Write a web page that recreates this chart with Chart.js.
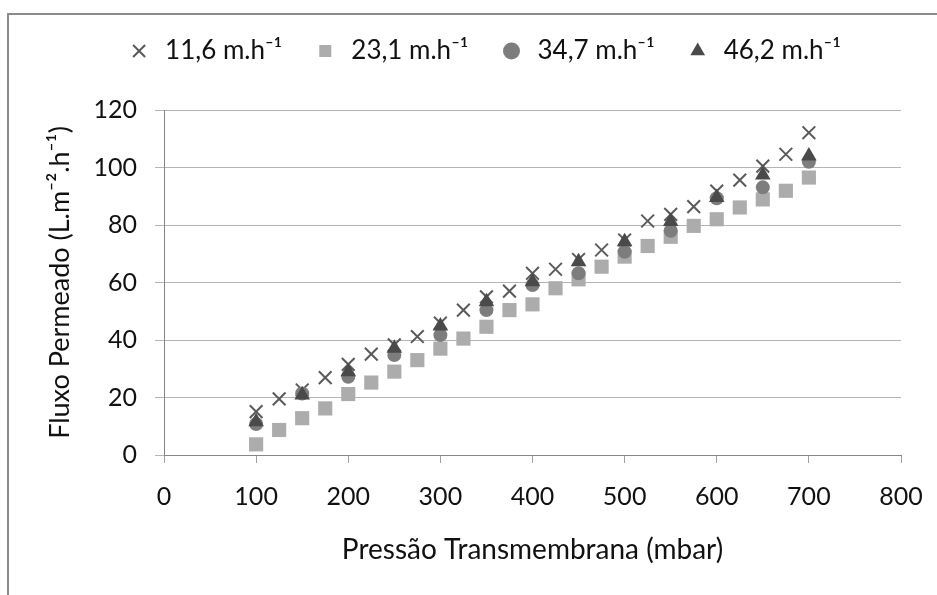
<!DOCTYPE html>
<html>
<head>
<meta charset="utf-8">
<script src="https://cdn.jsdelivr.net/npm/chart.js@4.4.1/dist/chart.umd.min.js"></script>
<style>
  html, body { margin: 0; padding: 0; background: #fff; }
  #wrap { position: relative; width: 937px; height: 595px; }
  #frame { position: absolute; left: 7px; top: 13px; right: 0; bottom: 0;
           border-top: 2px solid #8c8c8c; border-left: 2px solid #8c8c8c; pointer-events: none; }
</style>
</head>
<body>
<div id="wrap">
  <canvas id="chart" width="937" height="595"></canvas>
  <div id="frame"></div>
</div>
<script>
// pressure (mbar)
const pressaoFina = [100, 125, 150, 175, 200, 225, 250, 275, 300, 325, 350, 375, 400,
  425, 450, 475, 500, 525, 550, 575, 600, 625, 650, 675, 700];
const pressaoGrossa = [100, 150, 200, 250, 300, 350, 400, 450, 500, 550, 600, 650, 700];

// permeate flux (L.m-2.h-1)
const fluxo116 = [15.1, 19.5, 22.6, 26.9, 31.5, 35.1, 38.3, 41.2, 45.9, 50.4, 55.0, 57.0, 63.2,
  64.6, 68.0, 71.3, 74.8, 81.4, 83.7, 86.4, 91.8, 95.6, 100.5, 104.6, 112.1];
const fluxo231 = [3.7, 8.7, 12.8, 16.2, 21.2, 25.2, 29.0, 33.0, 37.0, 40.5, 44.6, 50.4, 52.4,
  58.0, 61.1, 65.5, 69.0, 72.7, 75.9, 79.7, 82.0, 86.1, 88.9, 91.9, 96.5];
const fluxo347 = [10.8, 21.4, 27.2, 34.8, 41.7, 50.4, 59.1, 63.2, 70.7, 78.0, 89.3, 93.1, 102.0];
const fluxo462 = [11.6, 20.9, 29.0, 37.1, 44.9, 53.3, 60.3, 67.2, 74.2, 81.2, 89.6, 97.4, 104.0];

const legendas = ['11,6 m.h\u207B\u00B9', '23,1 m.h\u207B\u00B9', '34,7 m.h\u207B\u00B9', '46,2 m.h\u207B\u00B9'];
const yTicks = [0, 20, 40, 60, 80, 100, 120];
const xTicks = [0, 100, 200, 300, 400, 500, 600, 700, 800];

const pares = (xs, ys) => xs.map((x, i) => ({ x: x, y: ys[i] }));

const FONT = 'Lato, "Noto Sans", sans-serif';

// legend keeps its own row but reserves the space down to the plot top
const legendaAjuste = {
  id: 'legendaAjuste',
  beforeLayout(chart) {
    const lg = chart.legend;
    if (lg && !lg._ajustada) {
      const fitOrig = lg.fit.bind(lg);
      lg.fit = function () { fitOrig(); this.height = 102; };
      lg._ajustada = true;
    }
  },
  afterLayout(chart) {
    const lg = chart.legend;
    if (lg) { lg.left += 28; lg.right += 28; }
  }
};

new Chart(document.getElementById('chart'), {
  type: 'scatter',
  data: {
    datasets: [
      { label: legendas[0], data: pares(pressaoFina, fluxo116), order: 4,
        pointStyle: 'crossRot', pointRadius: 9, borderWidth: 2,
        borderColor: '#5a5a5a', backgroundColor: '#5a5a5a' },
      { label: legendas[1], data: pares(pressaoFina, fluxo231), order: 3,
        pointStyle: 'rect', pointRadius: 10, borderWidth: 0,
        borderColor: '#acacac', backgroundColor: '#acacac' },
      { label: legendas[2], data: pares(pressaoGrossa, fluxo347), order: 2,
        pointStyle: 'circle', pointRadius: 7, borderWidth: 0,
        borderColor: '#7d7d7d', backgroundColor: '#7d7d7d' },
      { label: legendas[3], data: pares(pressaoGrossa, fluxo462), order: 1,
        pointStyle: 'triangle', pointRadius: 9, borderWidth: 0,
        borderColor: '#4a4a4a', backgroundColor: '#4a4a4a' }
    ]
  },
  plugins: [legendaAjuste],
  options: {
    responsive: false,
    animation: false,
    layout: { padding: { left: 10, right: 36, top: 8, bottom: 0 } },
    plugins: {
      tooltip: { enabled: false },
      legend: {
        position: 'top',
        labels: {
          usePointStyle: true,
          boxHeight: 12,
          padding: 30,
          color: '#111',
          font: { family: FONT, size: 26 },
          sort: (a, b) => a.datasetIndex - b.datasetIndex
        }
      }
    },
    scales: {
      x: {
        type: 'linear',
        min: 0, max: 800,
        afterBuildTicks: s => { s.ticks = xTicks.map(v => ({ value: v })); },
        afterFit: s => { s.height = 140; s.paddingLeft = 0; s.paddingRight = 0; },
        grid: { drawOnChartArea: false, drawTicks: true, tickLength: 8, color: '#a0a0a0' },
        border: { color: '#868686', width: 1 },
        ticks: { color: '#111', padding: 19, maxRotation: 0, font: { family: FONT, size: 25 } },
        title: { display: true, text: 'Pressão Transmembrana (mbar)', color: '#111',
                 padding: { top: 0, bottom: 28 }, font: { family: FONT, size: 28 } }
      },
      y: {
        type: 'linear',
        min: 0, max: 120,
        afterBuildTicks: s => { s.ticks = yTicks.map(v => ({ value: v })); },
        afterFit: s => { s.width = 154; },
        grid: { drawOnChartArea: true, drawTicks: true, tickLength: 9, color: '#b4b4b4' },
        border: { color: '#868686', width: 1 },
        ticks: { color: '#111', padding: 18, font: { family: FONT, size: 25 } },
        title: { display: true, text: 'Fluxo Permeado (L.m\u207B\u00B2.h\u207B\u00B9)', color: '#111',
                 padding: { top: 34, bottom: 0 }, font: { family: FONT, size: 27 } }
      }
    }
  }
});
</script>
</body>
</html>
